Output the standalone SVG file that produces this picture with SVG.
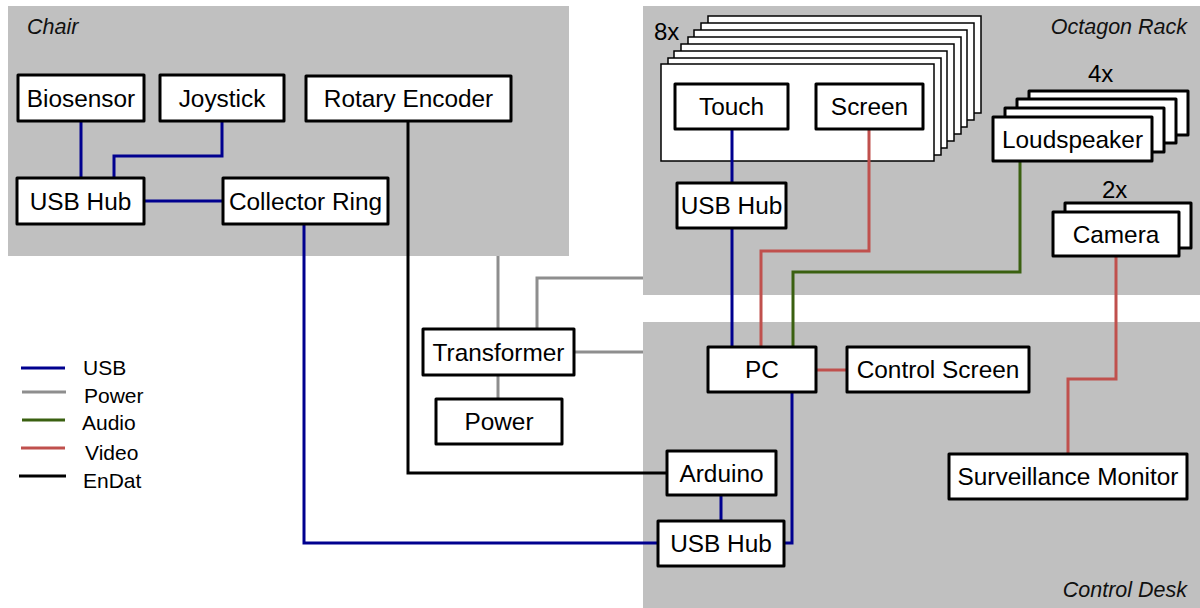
<svg xmlns="http://www.w3.org/2000/svg" width="1200" height="608" viewBox="0 0 1200 608">
<style>
.region{fill:#c0c0c0}
.rl{font-family:"Liberation Sans",Arial,sans-serif;font-style:italic;font-size:21.5px;fill:#111}
.box{fill:#fff;stroke:#000;stroke-width:3;stroke-linejoin:round}
.card{fill:#fff;stroke:#000;stroke-width:1.5}
.t{font-family:"Liberation Sans",Arial,sans-serif;font-size:24.4px;fill:#000;text-anchor:middle}
.n{font-family:"Liberation Sans",Arial,sans-serif;font-size:24px;fill:#000}
.lg{font-family:"Liberation Sans",Arial,sans-serif;font-size:21px;fill:#000}
.c{fill:none;stroke-width:3;stroke-linejoin:miter}
.usb{stroke:#00008f}
.pow{stroke:#8e8e8e}
.aud{stroke:#3a6010}
.vid{stroke:#c0504d}
.end{stroke:#000}
</style>
<rect width="1200" height="608" fill="#fff"/>
<g id="regions">
<rect class="region" x="8" y="6" width="561" height="250"/>
<rect class="region" x="643" y="6" width="557" height="289"/>
<rect class="region" x="643" y="322" width="557" height="286"/>
<text class="rl" x="27" y="34">Chair</text>
<text class="rl" x="1187" y="34" text-anchor="end">Octagon Rack</text>
<text class="rl" x="1187" y="597" text-anchor="end">Control Desk</text>
</g>
<g id="rack-cards">
<rect class="card" x="708" y="16" width="273" height="97"/>
<rect class="card" x="701" y="23" width="273" height="97"/>
<rect class="card" x="694" y="30" width="273" height="97"/>
<rect class="card" x="688" y="37" width="273" height="97"/>
<rect class="card" x="681" y="44" width="273" height="97"/>
<rect class="card" x="674" y="51" width="273" height="97"/>
<rect class="card" x="668" y="58" width="273" height="97"/>
<rect class="card" x="661" y="64" width="273" height="97"/>
<text class="n" x="654" y="40">8x</text>
</g>
<g id="connectors">
<polyline class="c usb" points="81,121 81,178"/>
<polyline class="c usb" points="222,121 222,156 114,156 114,178"/>
<polyline class="c usb" points="144,201 223,201"/>
<polyline class="c usb" points="304,224 304,543 658,543"/>
<polyline class="c end" points="408,121 408,473 667,473"/>
<polyline class="c pow" points="498,256 498,329"/>
<polyline class="c pow" points="537,329 537,278 643,278"/>
<polyline class="c pow" points="574,352 643,352"/>
<polyline class="c pow" points="498,375 498,399"/>
<polyline class="c usb" points="732,129 732,183"/>
<polyline class="c usb" points="732,228 732,347"/>
<polyline class="c vid" points="869,129 869,251 761,251 761,347"/>
<polyline class="c aud" points="1020,161 1020,272 793,272 793,347"/>
<polyline class="c vid" points="816,370 847,370"/>
<polyline class="c usb" points="792,392 792,543 784,543"/>
<polyline class="c usb" points="721,495 721,521"/>
<polyline class="c vid" points="1116,256 1116,379 1068,379 1068,454"/>
</g>
<g id="biosensor"><rect class="box" x="18" y="75" width="126" height="46"/><text class="t" x="81" y="106.5">Biosensor</text></g>
<g id="joystick"><rect class="box" x="160" y="75" width="124" height="46"/><text class="t" x="222" y="106.5">Joystick</text></g>
<g id="rotary-encoder"><rect class="box" x="306" y="76" width="205" height="45"/><text class="t" x="408.5" y="107">Rotary Encoder</text></g>
<g id="chair-usb-hub"><rect class="box" x="17" y="178" width="127" height="46"/><text class="t" x="80.5" y="209.5">USB Hub</text></g>
<g id="collector-ring"><rect class="box" x="223" y="178" width="165" height="46"/><text class="t" x="305.5" y="209.5">Collector Ring</text></g>
<g id="transformer"><rect class="box" x="423" y="329" width="151" height="46"/><text class="t" x="498.5" y="360.5">Transformer</text></g>
<g id="power"><rect class="box" x="436" y="399" width="126" height="45"/><text class="t" x="499" y="430">Power</text></g>
<g id="touch"><rect class="box" x="675" y="84" width="113" height="45"/><text class="t" x="731.5" y="115">Touch</text></g>
<g id="screen"><rect class="box" x="816" y="84" width="107" height="45"/><text class="t" x="869.5" y="115">Screen</text></g>
<g id="rack-usb-hub"><rect class="box" x="677" y="183" width="109" height="45"/><text class="t" x="731.5" y="214">USB Hub</text></g>
<g id="loudspeaker">
<rect class="box" x="1029" y="91" width="159" height="44"/>
<rect class="box" x="1017" y="99" width="159" height="44"/>
<rect class="box" x="1005" y="108" width="159" height="44"/>
<rect class="box" x="993" y="117" width="159" height="44"/>
<text class="t" x="1072.5" y="147.5">Loudspeaker</text>
<text class="n" x="1088" y="82">4x</text>
</g>
<g id="camera">
<rect class="box" x="1065" y="203" width="126" height="45"/>
<rect class="box" x="1053" y="212" width="126" height="44"/>
<text class="t" x="1116" y="242.5">Camera</text>
<text class="n" x="1102" y="198">2x</text>
</g>
<g id="pc"><rect class="box" x="708" y="347" width="108" height="45"/><text class="t" x="762" y="378">PC</text></g>
<g id="control-screen"><rect class="box" x="847" y="347" width="182" height="45"/><text class="t" x="938" y="378">Control Screen</text></g>
<g id="arduino"><rect class="box" x="667" y="451" width="109" height="44"/><text class="t" x="721.5" y="481.5">Arduino</text></g>
<g id="desk-usb-hub"><rect class="box" x="658" y="521" width="126" height="45"/><text class="t" x="721" y="552">USB Hub</text></g>
<g id="surveillance-monitor"><rect class="box" x="949" y="454" width="238" height="45"/><text class="t" x="1068" y="485">Surveillance Monitor</text></g>
<g id="legend">
<line class="c usb" x1="21" y1="368" x2="65" y2="368"/>
<line class="c pow" x1="22" y1="392" x2="66" y2="392"/>
<line class="c aud" x1="22" y1="420" x2="65" y2="420"/>
<line class="c vid" x1="21" y1="448" x2="65" y2="448"/>
<line class="c end" x1="19" y1="476" x2="66" y2="476"/>
<text class="lg" x="83" y="375">USB</text>
<text class="lg" x="84" y="403">Power</text>
<text class="lg" x="82" y="430">Audio</text>
<text class="lg" x="85" y="460">Video</text>
<text class="lg" x="83" y="488">EnDat</text>
</g>
</svg>
